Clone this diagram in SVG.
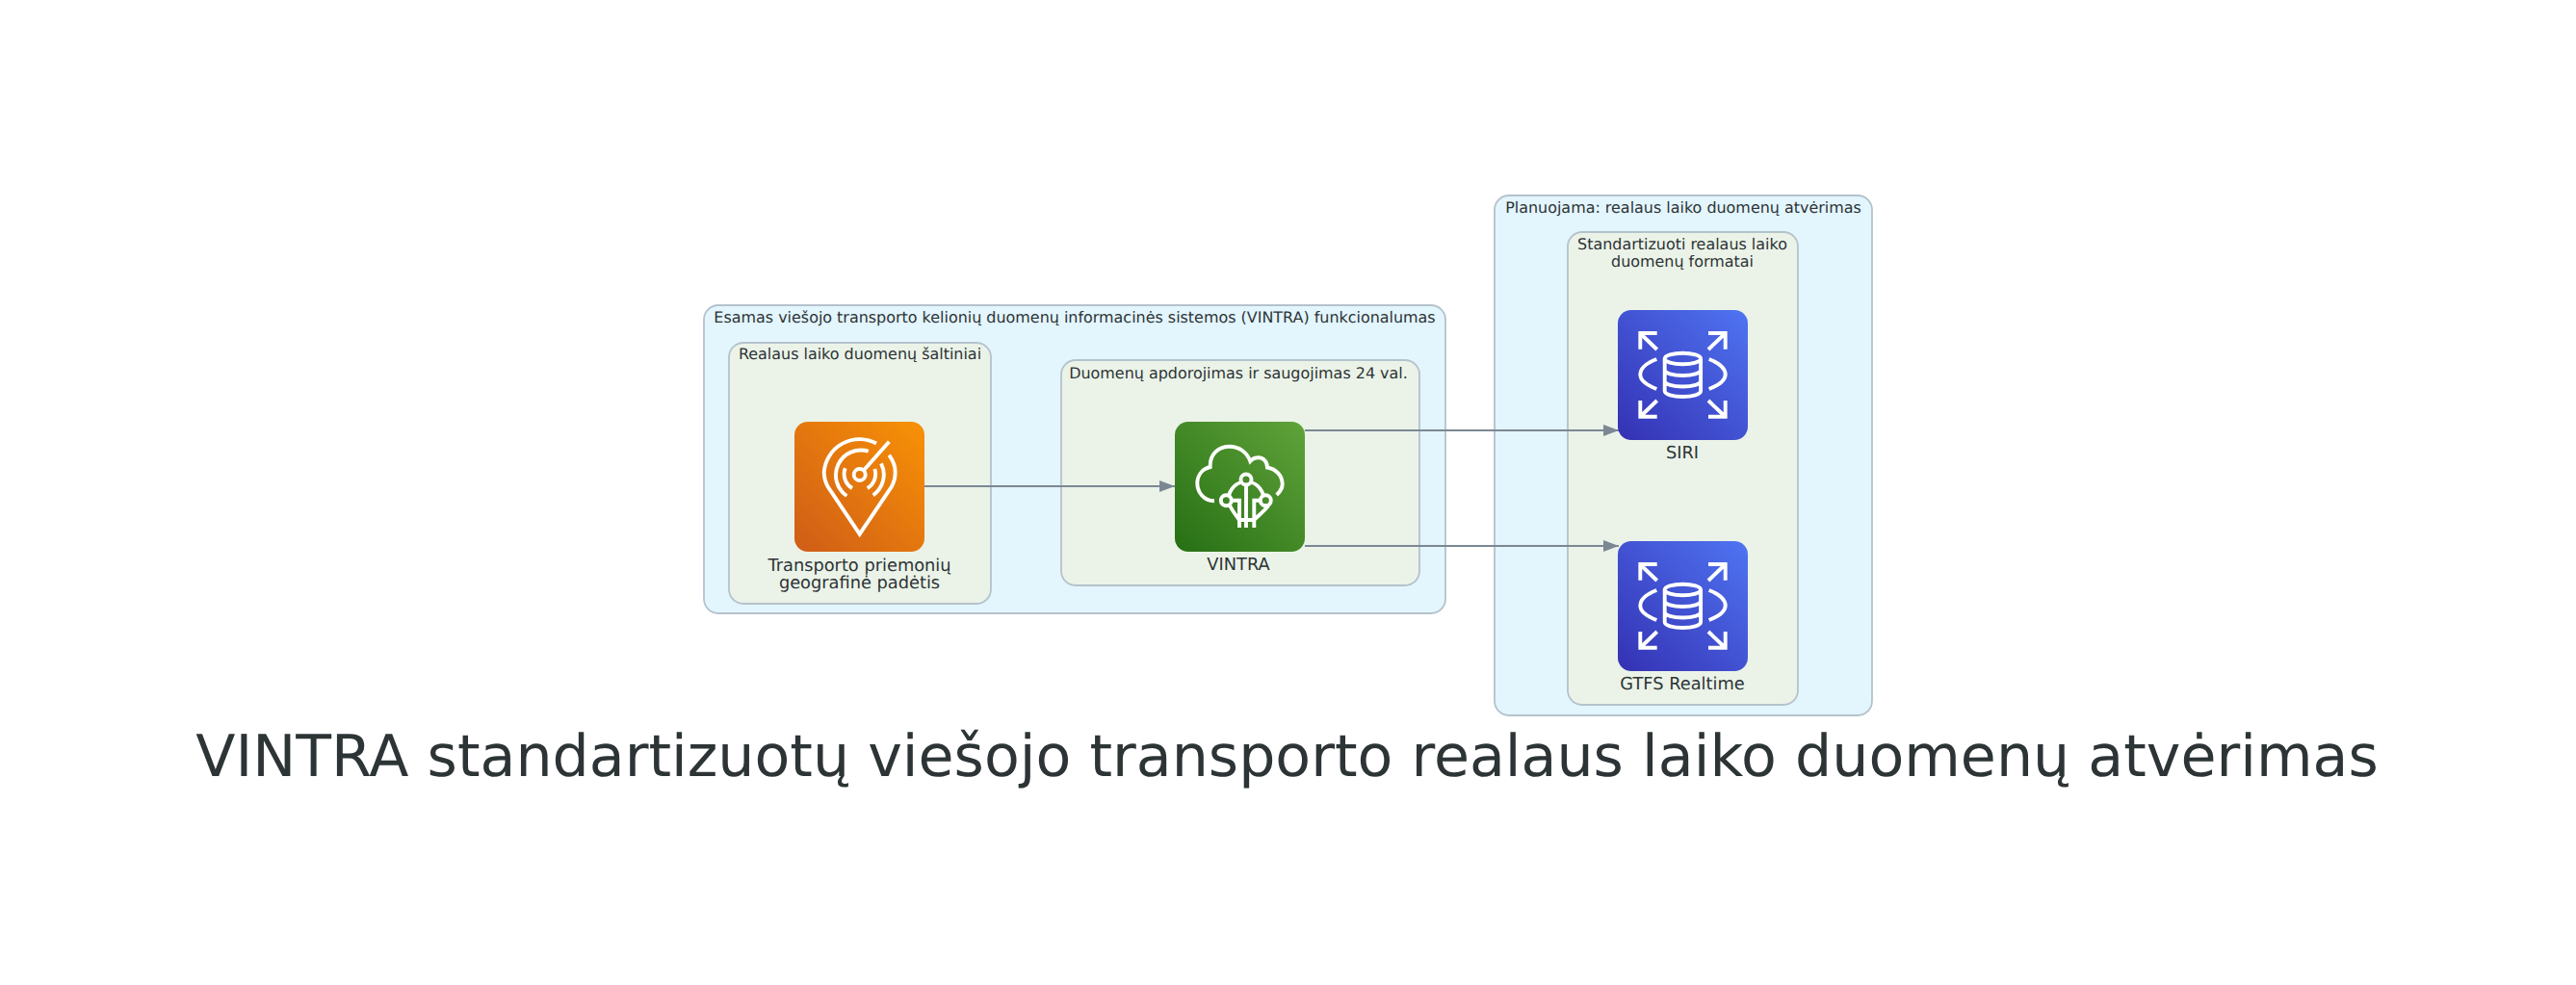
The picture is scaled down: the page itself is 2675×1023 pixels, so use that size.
<svg xmlns="http://www.w3.org/2000/svg" width="2675" height="1023" viewBox="0 0 2675 1023">
<style>
text{font-family:"DejaVu Sans",sans-serif;fill:#2d3436;text-anchor:middle;text-rendering:geometricPrecision}
.t{font-size:15.95px}
.n{font-size:17.8px}
.title{font-size:60.2px}
.outer{fill:#e3f5fd;stroke:#b4c2cc;stroke-width:1.8}
.inner{fill:#ebf3e8;stroke:#b4c2cc;stroke-width:1.8}
.edge{fill:none;stroke:#7b8894;stroke-width:2}
.g{fill:none;stroke:#fff;stroke-width:3.9;stroke-linejoin:miter}
</style>
<defs>
<marker id="arr" markerUnits="userSpaceOnUse" markerWidth="16" markerHeight="12" refX="16" refY="6" orient="auto"><path d="M0 0L16 6L0 12Z" fill="#7b8894"/></marker>
<linearGradient id="go" x1="0" y1="1" x2="1" y2="0"><stop offset="0" stop-color="#cf5c17"/><stop offset="1" stop-color="#f89206"/></linearGradient>
<linearGradient id="gg" x1="0" y1="1" x2="1" y2="0"><stop offset="0" stop-color="#266f14"/><stop offset="1" stop-color="#60a33a"/></linearGradient>
<linearGradient id="gb" x1="0" y1="1" x2="1" y2="0"><stop offset="0" stop-color="#3431b3"/><stop offset="1" stop-color="#4f74f2"/></linearGradient>
<g id="rds">
<rect width="135" height="135" rx="14" fill="url(#gb)"/>
<g class="g">
<path d="M40.7 24H23.3V40.7M24 25L40.7 41M94 24H111.7V40.7M110.7 25L94 41M40.7 110.7H23.3V94M24 110L40.7 94M94 110.7H111.7V94M110.7 110L94 94"/>
<path d="M40.3 51C30 55 23.3 61 23.3 67C23.3 73 30 78 40.3 82M94.7 51C105 55 111.7 61 111.7 67C111.7 73 105 78 94.7 82"/>
<ellipse cx="67.4" cy="50.5" rx="18.7" ry="5.8"/>
<path d="M48.7 50.5V84C48.7 87.5 57 90 67.4 90S86.1 87.5 86.1 84V50.5M48.7 62C48.7 65.5 57 68 67.4 68S86.1 65.5 86.1 62M48.7 73.5C48.7 77 57 79.5 67.4 79.5S86.1 77 86.1 73.5"/>
</g>
</g>
</defs>
<rect width="2675" height="1023" fill="#fff"/>
<g id="cluster-esamas">
<rect class="outer" x="731" y="317" width="770" height="320" rx="15"/>
<text class="t" x="1116" y="335">Esamas viešojo transporto kelionių duomenų informacinės sistemos (VINTRA) funkcionalumas</text>
</g>
<g id="cluster-saltiniai">
<rect class="inner" x="757" y="356" width="272" height="271" rx="15"/>
<text class="t" x="893" y="373">Realaus laiko duomenų šaltiniai</text>
</g>
<g id="cluster-apdorojimas">
<rect class="inner" x="1102" y="374" width="372" height="234" rx="15"/>
<text class="t" x="1286" y="393">Duomenų apdorojimas ir saugojimas 24 val.</text>
</g>
<g id="cluster-planuojama">
<rect class="outer" x="1552" y="203" width="392" height="540" rx="15"/>
<text class="t" x="1748" y="221">Planuojama: realaus laiko duomenų atvėrimas</text>
</g>
<g id="cluster-formatai">
<rect class="inner" x="1628" y="241" width="239" height="491" rx="15"/>
<text class="t" x="1747" y="259">Standartizuoti realaus laiko</text>
<text class="t" x="1747" y="277">duomenų formatai</text>
</g>
<g id="connectors">
<path class="edge" marker-end="url(#arr)" d="M960 505H1220"/>
<path class="edge" marker-end="url(#arr)" d="M1355 447H1681"/>
<path class="edge" marker-end="url(#arr)" d="M1355 567H1681"/>
</g>
<g id="node-transporto">
<g transform="translate(825 438)">
<rect width="135" height="135" rx="14" fill="url(#go)"/>
<g class="g">
<path d="M85 22.5A37 37 0 0 0 30.7 52C30.7 59 32 63 35 68L67.7 116.7L100.5 68C103.5 63 104.7 59 104.7 52C104.7 45 102 40 98.3 34.7"/>
<path d="M76.7 30.7A26 26 0 0 0 54.3 77M90 43.3A26 26 0 0 1 81.7 76.3M52.7 48.3A17 17 0 0 0 60 69M83.3 49A17 17 0 0 1 75.7 69"/>
<circle cx="67.7" cy="55" r="6"/>
<path d="M72.3 50L98.3 20.7"/>
</g>
</g>
<text class="n" x="892.5" y="593">Transporto priemonių</text>
<text class="n" x="892.5" y="611">geografinė padėtis</text>
</g>
<g id="node-vintra">
<g transform="translate(1220 438)">
<rect width="135" height="135" rx="14" fill="url(#gg)"/>
<g class="g">
<path d="M41 82.3C30 82.3 23.3 73 23.3 64C23.3 55 29 49 36.7 47C36 33 46 25.7 56.7 25.7C67 25.7 75 32 78.3 41C81 38 84 37.3 87 37.3C92 37.3 96 42 96 47.5C105 49 111.7 56 111.7 65C111.7 69 109 73 105.7 76"/>
<circle cx="74" cy="60" r="5.5"/><circle cx="53.3" cy="81.7" r="5.5"/><circle cx="94.3" cy="81.7" r="5.5"/>
<path d="M68.5 63C62 65 58 70 56 76.5M79.5 63C86 65 90 70 92 76.5M74 65.5V110M58.5 81.7H67V110M89 81.7H82.3V110M57 87C60 93 64 98 67 102H82.3C86 98 94 92 97.5 86.5"/>
</g>
</g>
<text class="n" x="1286" y="592">VINTRA</text>
</g>
<g id="node-siri">
<use href="#rds" x="1680" y="322"/>
<text class="n" x="1747" y="476">SIRI</text>
</g>
<g id="node-gtfs">
<use href="#rds" x="1680" y="562"/>
<text class="n" x="1747" y="716">GTFS Realtime</text>
</g>
<text id="title" class="title" x="1336.5" y="806">VINTRA standartizuotų viešojo transporto realaus laiko duomenų atvėrimas</text>
</svg>
